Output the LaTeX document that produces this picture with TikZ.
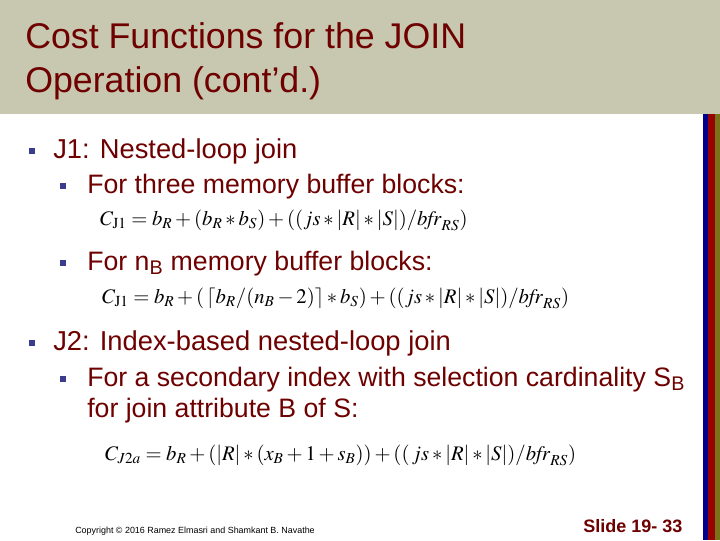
\documentclass[tikz,border=0pt]{standalone}
\usepackage{mathptmx}
\usepackage{fontspec}
\setmainfont{Liberation Sans}
\begin{document}
\begin{tikzpicture}[x=0.75pt,y=-0.75pt,
  txt/.style={anchor=base west,inner sep=0,text=tred},
  bul/.style={fill=bcol,minimum size=5pt,inner sep=0},
  sbul/.style={fill=bcol,minimum size=4.5pt,inner sep=0},
  frm/.style={anchor=west,inner sep=0,font=\fontsize{15.5}{17}\selectfont}]
\definecolor{hdr}{RGB}{200,200,176}
\definecolor{tred}{RGB}{110,0,0}
\definecolor{bcol}{RGB}{60,60,140}
\useasboundingbox (0,0) rectangle (720,540);
\fill[white] (0,0) rectangle (720,540);
\fill[hdr] (0,0) rectangle (720,114);
\fill[blue!55!black] (703,114) rectangle (708,540);
\fill[red!60!black] (708,114) rectangle (715,540);
\fill[olive!80!black] (715,114) rectangle (720,540);
\node[txt,font=\fontsize{26.8}{27}\selectfont] (t1) at (25,48) {Cost Functions for the JOIN};
\node[txt,font=\fontsize{26.8}{27}\selectfont] (t2) at (25,92) {Operation (cont’d.)};
\node[bul] (b1) at (32,151) {};
\node[txt,font=\fontsize{20.5}{21}\selectfont] (l1) at (53,158) {J1: Nested-loop join};
\node[sbul] (s1) at (63,186) {};
\node[txt,font=\fontsize{20}{21}\selectfont] (l2) at (87,193) {For three memory buffer blocks:};
\node[frm] (f1) at (100,220) {$C_{\mathrm{J1}} = b_R + (b_R \mathbin{*} b_S) + ((js \mathbin{*} |R| \mathbin{*} |S|)/\mathit{bfr}_{RS})$};
\node[sbul] (s2) at (63,263) {};
\node[txt,font=\fontsize{20}{21}\selectfont] (l3) at (87,270) {For n\textsubscript{B} memory buffer blocks:};
\node[frm] (f2) at (102,298) {$C_{\mathrm{J1}} = b_R + (\,\lceil b_R/(n_B-2)\rceil * b_S) + ((js * |R| * |S|)/\mathit{bfr}_{RS})$};
\node[bul] (b2) at (32,343) {};
\node[txt,font=\fontsize{20.5}{21}\selectfont] (l4) at (53,350) {J2: Index-based nested-loop join};
\node[sbul] (s3) at (63,379) {};
\node[txt,font=\fontsize{20}{21}\selectfont] (l5) at (87,386) {For a secondary index with selection cardinality S\textsubscript{B}};
\node[txt,font=\fontsize{20}{21}\selectfont] (l6) at (87,417) {for join attribute B of S:};
\node[frm] (f3) at (105,455) {$C_{J2a} = b_R + (|R| * (x_B + 1 + s_B)) + ((\,js * |R| * |S|)/\mathit{bfr}_{RS})$};
\node[txt,text=black,font=\fontsize{6.7}{7}\selectfont] (cp) at (75,533) {Copyright © 2016 Ramez Elmasri and Shamkant B. Navathe};
\node[txt,font=\bfseries\fontsize{13.5}{14}\selectfont] (sl) at (583,532) {Slide 19- 33};
\end{tikzpicture}
\end{document}
